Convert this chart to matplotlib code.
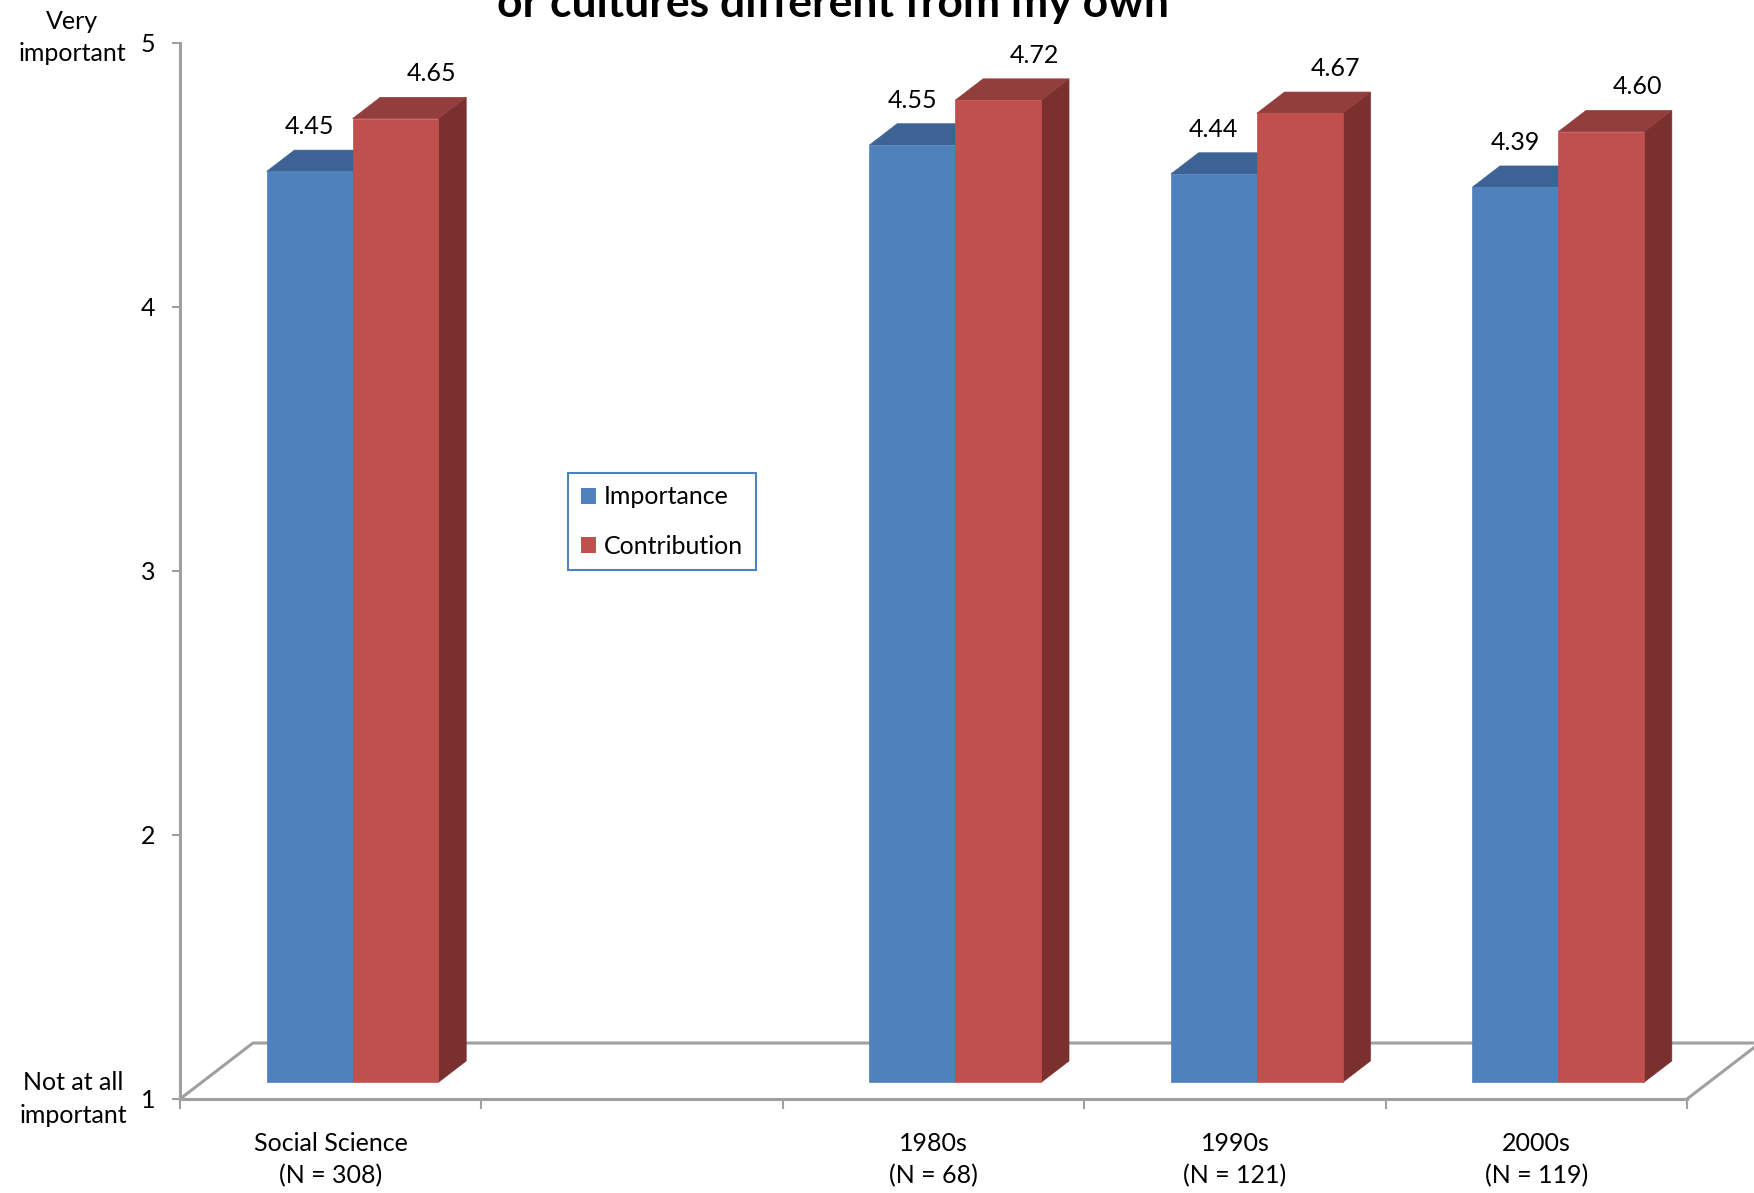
import numpy as np
import matplotlib
matplotlib.use("Agg")
import matplotlib.pyplot as plt
from matplotlib.patches import Polygon, Patch

plt.rcParams['font.family'] = ['Lato', 'DejaVu Sans']

# data
categories = ["Social Science\n(N = 308)", "", "1980s\n(N = 68)",
              "1990s\n(N = 121)", "2000s\n(N = 119)"]
importance = [4.45, np.nan, 4.55, 4.44, 4.39]
contribution = [4.65, np.nan, 4.72, 4.67, 4.60]
series_names = ["Importance", "Contribution"]

# colours: front, top, side
BLUE = ("#4F81BD", "#3C6393", "#2E4C73")
RED = ("#C0504D", "#923E3C", "#7A302F")
AXIS_GREY = "#A0A0A0"

# 3d geometry (in data units)
FLOOR_DX, FLOOR_DY = 0.242, 0.212
FRONT = 0.30
DEPTH = 0.38
BAR_W = 0.285


def draw_bar(ax, x_left, value, colours):
    ox, oy = FRONT * FLOOR_DX, FRONT * FLOOR_DY
    dx, dy = DEPTH * FLOOR_DX, DEPTH * FLOOR_DY
    x0 = x_left + ox
    x1 = x0 + BAR_W
    y0 = 1 + oy
    y1 = value + oy
    side = [(x1, y0), (x1, y1), (x1 + dx, y1 + dy), (x1 + dx, y0 + dy)]
    top = [(x0, y1), (x1, y1), (x1 + dx, y1 + dy), (x0 + dx, y1 + dy)]
    front = [(x0, y0), (x1, y0), (x1, y1), (x0, y1)]
    for pts, c in ((side, colours[2]), (top, colours[1]), (front, colours[0])):
        ax.add_patch(Polygon(pts, closed=True, facecolor=c, edgecolor=c,
                             linewidth=0.5, zorder=3, clip_on=False))


fig = plt.figure(figsize=(17.54, 11.93), dpi=100)
ax = fig.add_axes([180 / 1754, 94 / 1193, 1507 / 1754, 1056 / 1193])
ax.set_xlim(0, len(categories))
ax.set_ylim(1, 5)

# floor
n = len(categories)
ax.plot([0, FLOOR_DX, n + FLOOR_DX], [1, 1 + FLOOR_DY, 1 + FLOOR_DY],
        color=AXIS_GREY, lw=2.2, zorder=1, clip_on=False, solid_capstyle='butt')
ax.plot([n, n + FLOOR_DX], [1, 1 + FLOOR_DY], color=AXIS_GREY, lw=2.2,
        zorder=1, clip_on=False)

for i in range(n):
    for j, (vals, cols) in enumerate(((importance, BLUE), (contribution, RED))):
        v = vals[i]
        if np.isnan(v):
            continue
        x_left = i + 0.5 - BAR_W + j * BAR_W
        draw_bar(ax, x_left, v, cols)
        # value labels (excel puts the red ones a bit to the right)
        lx = x_left + FRONT * FLOOR_DX + BAR_W / 2 + (0.0 if j == 0 else 0.12)
        ax.text(lx, v + FRONT * FLOOR_DY + 0.17, f"{v:.2f}", ha='center',
                va='center', fontsize=18, zorder=5, clip_on=False)

# axes styling
for s in ('top', 'right'):
    ax.spines[s].set_visible(False)
for s in ('left', 'bottom'):
    ax.spines[s].set_color(AXIS_GREY)
    ax.spines[s].set_linewidth(2.2)
    ax.spines[s].set_zorder(2)

ax.set_yticks([1, 2, 3, 4, 5])
ax.tick_params(axis='y', direction='out', length=6, width=1.5, color=AXIS_GREY,
               labelsize=18, pad=12)
ax.set_xticks(np.arange(n + 1))
ax.set_xticklabels([])
ax.set_xticks(np.arange(n) + 0.5, minor=True)
ax.set_xticklabels(categories, minor=True, linespacing=1.45)
ax.tick_params(axis='x', which='major', direction='out', length=7, width=1.5,
               color=AXIS_GREY)
ax.tick_params(axis='x', which='minor', length=0, labelsize=18, pad=24)

ax.text(-0.358, 5.02, "Very\nimportant", ha='center', va='center', fontsize=18,
        linespacing=1.5, clip_on=False)
ax.text(-0.355, 1.0, "Not at all\nimportant", ha='center', va='center', fontsize=18,
        linespacing=1.5, clip_on=False)

# legend
handles = [Patch(facecolor=BLUE[0], edgecolor='none'),
           Patch(facecolor=RED[0], edgecolor='none')]
leg = fig.legend(handles, series_names, loc='upper left',
                 bbox_to_anchor=(568 / 1754, 1 - 473 / 1193), fontsize=18,
                 handlelength=0.6, handleheight=0.6, handletextpad=0.35,
                 labelspacing=1.05, borderpad=0.5, borderaxespad=0,
                 fancybox=False, framealpha=1)
leg.get_frame().set_edgecolor("#4F81BD")
leg.get_frame().set_linewidth(1.5)

# title (its top falls outside the image in the original)
fig.text(833 / 1754, 1 - 17 / 1193, "or cultures different from my own",
         ha='center', va='baseline', fontsize=32, fontweight='bold')

fig.savefig("out.png", dpi=100)
